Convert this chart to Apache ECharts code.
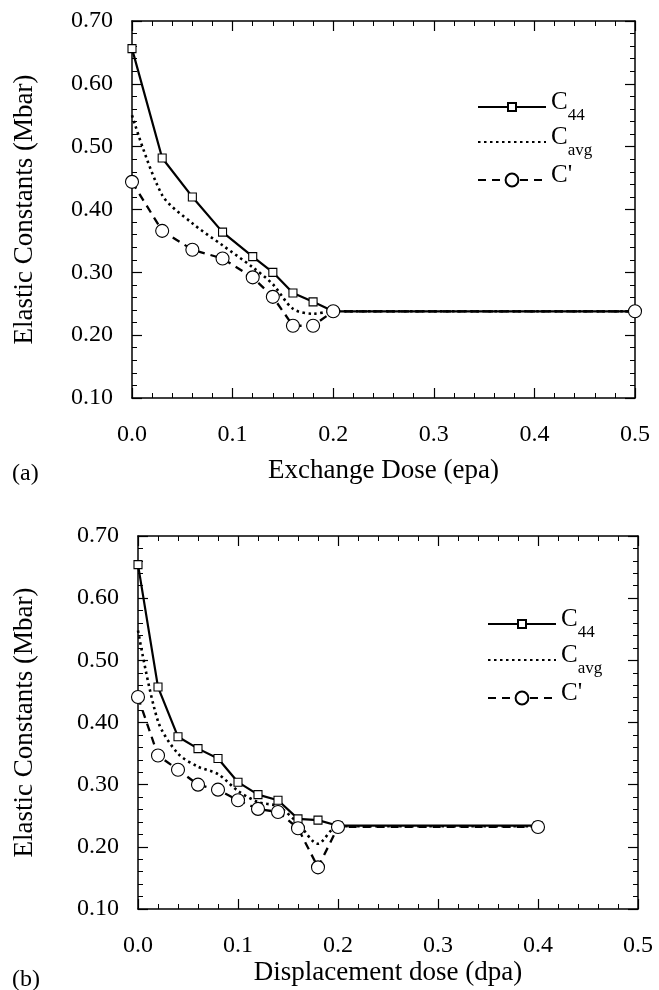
<!DOCTYPE html>
<html>
<head>
<meta charset="utf-8">
<script src="https://cdn.jsdelivr.net/npm/echarts@6/dist/echarts.min.js"></script>
<style>
  html, body { margin: 0; padding: 0; background: #fff; }
  #chart { width: 659px; height: 990px; }
</style>
</head>
<body>
<div id="chart"></div>
<script>
// (a) exchange dose, epa
const doseA = [0, 0.03, 0.06, 0.09, 0.12, 0.14, 0.16, 0.18, 0.20, 0.50];
const c44A = [0.656, 0.482, 0.420, 0.364, 0.325, 0.300, 0.267, 0.253, 0.238, 0.238];
const cavgA = [0.550, 0.423, 0.378, 0.343, 0.308, 0.281, 0.242, 0.234, 0.238, 0.238];
const cpA = [0.444, 0.366, 0.336, 0.322, 0.292, 0.261, 0.215, 0.215, 0.238, 0.238];

// (b) displacement dose, dpa
const doseB = [0, 0.02, 0.04, 0.06, 0.08, 0.10, 0.12, 0.14, 0.16, 0.18, 0.20, 0.40];
const c44B = [0.654, 0.457, 0.377, 0.358, 0.342, 0.304, 0.284, 0.275, 0.245, 0.243, 0.234, 0.234];
const cavgB = [0.548, 0.402, 0.350, 0.329, 0.317, 0.290, 0.272, 0.265, 0.238, 0.205, 0.233, 0.233];
const cpB = [0.441, 0.347, 0.324, 0.300, 0.292, 0.275, 0.261, 0.256, 0.230, 0.167, 0.232, 0.232];

const xTitles = ['Exchange Dose (epa)', 'Displacement dose (dpa)'];
const yTitle = 'Elastic Constants (Mbar)';
const panelLabels = ['(a)', '(b)'];

const font = 'Liberation Serif';
const chart = echarts.init(document.getElementById('chart'));

function pairs(xs, ys) {
    return xs.map((x, i) => [x, ys[i]]);
}

// one side of the box; only the bottom and left ones carry labels
function boxAxis(dim, grid, position, labelled, name, nameGap) {
    const isX = dim === 'x';
    return {
        type: 'value',
        gridIndex: grid,
        position: position,
        min: isX ? 0 : 0.1,
        max: isX ? 0.5 : 0.7,
        interval: 0.1,
        name: labelled ? name : '',
        nameLocation: 'middle',
        nameGap: nameGap,
        nameTextStyle: { fontFamily: font, fontSize: 27, color: '#000' },
        axisLine: { show: true, onZero: false, lineStyle: { color: '#000', width: 1.5 } },
        axisTick: { show: true, inside: true, length: 10, lineStyle: { color: '#000', width: 1.2 } },
        minorTick: { show: true, splitNumber: 5, length: 5, lineStyle: { color: '#000', width: 1 } },
        splitLine: { show: false },
        axisLabel: {
            show: labelled,
            margin: isX ? 25 : 19,
            fontFamily: font,
            fontSize: 24,
            color: '#000',
            formatter: v => isX ? v.toFixed(1) : v.toFixed(2)
        }
    };
}

function makeSeries(grid, name, xs, ys) {
    const s = {
        name: name,
        type: 'line',
        xAxisIndex: grid * 2,
        yAxisIndex: grid * 2,
        data: pairs(xs, ys),
        itemStyle: { color: '#fff', borderColor: '#000', borderWidth: 1.1 },
        emphasis: { disabled: true }
    };
    if (name === 'C44') {
        s.symbol = 'rect';
        s.symbolSize = 8;
        s.lineStyle = { color: '#000', width: 2.2 };
    } else if (name === 'Cavg') {
        s.symbol = 'none';
        s.smooth = 0.3;
        s.lineStyle = { color: '#000', width: 2.6, type: [2.5, 3.5] };
    } else {
        s.symbol = 'circle';
        s.symbolSize = 13;
        s.lineStyle = { color: '#000', width: 2.3, type: [8, 6] };
    }
    return s;
}

function legendItem(name, left, lineY) {
    const sub = { C44: '{m|C}{s|44}', Cavg: '{m|C}{s|avg}', "C'": "{m|C'}" };
    const h = name === 'C44' ? 10 : 16;
    return {
        data: [name],
        left: left,
        top: lineY - 17,
        padding: 0,
        itemWidth: 68,
        itemHeight: h,
        selectedMode: false,
        itemStyle: name === 'Cavg' ? { opacity: 0 } : {},
        formatter: () => sub[name],
        textStyle: {
            color: '#000',
            fontFamily: font,
            rich: {
                m: { fontFamily: font, fontSize: 25, color: '#000', lineHeight: 34, verticalAlign: 'top' },
                s: { fontFamily: font, fontSize: 17, color: '#000', lineHeight: 16, verticalAlign: 'bottom' }
            }
        }
    };
}

function panelTitle(text, top) {
    return {
        text: text,
        left: 12,
        top: top,
        padding: 0,
        textStyle: { fontFamily: font, fontSize: 24, fontWeight: 'normal', color: '#000' }
    };
}

const option = {
    animation: false,
    backgroundColor: '#fff',
    title: [
        panelTitle(panelLabels[0], 462),
        panelTitle(panelLabels[1], 968)
    ],
    grid: [
        { left: 132, top: 21, width: 503, height: 377 },
        { left: 138, top: 536, width: 500, height: 373 }
    ],
    xAxis: [
        boxAxis('x', 0, 'bottom', true, xTitles[0], 59),
        boxAxis('x', 0, 'top', false),
        boxAxis('x', 1, 'bottom', true, xTitles[1], 50),
        boxAxis('x', 1, 'top', false)
    ],
    yAxis: [
        boxAxis('y', 0, 'left', true, yTitle, 94),
        boxAxis('y', 0, 'right', false),
        boxAxis('y', 1, 'left', true, yTitle, 100),
        boxAxis('y', 1, 'right', false)
    ],
    legend: [
        legendItem('C44', 477, 107),
        legendItem('Cavg', 477, 142),
        legendItem("C'", 477, 180),
        legendItem('C44', 487, 624),
        legendItem('Cavg', 487, 660),
        legendItem("C'", 487, 698)
    ],
    series: [
        makeSeries(0, 'C44', doseA, c44A),
        makeSeries(0, 'Cavg', doseA, cavgA),
        makeSeries(0, "C'", doseA, cpA),
        makeSeries(1, 'C44', doseB, c44B),
        makeSeries(1, 'Cavg', doseB, cavgB),
        makeSeries(1, "C'", doseB, cpB)
    ]
};

chart.setOption(option);
</script>
</body>
</html>
